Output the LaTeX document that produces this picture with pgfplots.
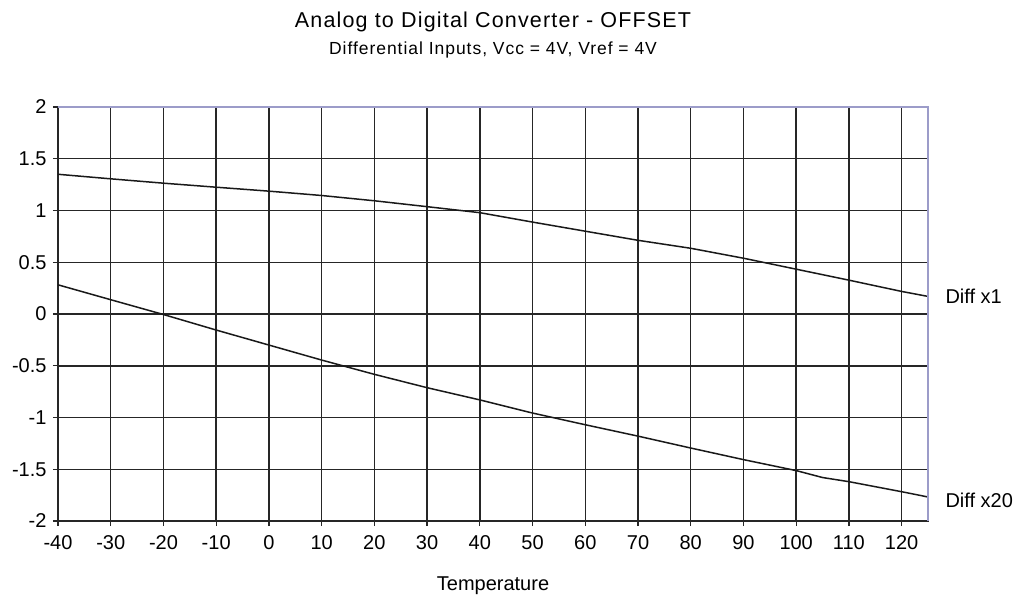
\documentclass[border=0pt]{standalone}
\usepackage{pgfplots}
\pgfplotsset{compat=1.18}
\usepackage{fontspec}
\setmainfont{Liberation Sans}
\newfontfamily\spaced[LetterSpace=5.5]{Liberation Sans}
\begin{document}
\begin{tikzpicture}
\path[use as bounding box] (-58pt,-76pt) rectangle (975pt,521pt);
\begin{axis}[
  scale only axis,
  width=870pt, height=414pt,
  xmin=-40, xmax=125, ymin=-2, ymax=2,
  xtick={-40,-30,...,120},
  ytick={-2,-1.5,...,2},
  yticklabels={-2,-1.5,-1,-0.5,0,0.5,1,1.5,2},
  xtick pos=bottom, ytick pos=left,
  grid=major,
  major grid style={draw=black!85, line width=1.5pt},
  axis line style={draw=black!85, line width=1.5pt},
  tick align=outside,
  major tick length=5pt,
  tick style={draw=black!85, line width=1.3pt},
  ticklabel style={font=\fontsize{20}{24}\selectfont},
  /pgf/number format/assume math mode=true,
  xticklabel style={yshift=-6pt},
  yticklabel style={xshift=-3pt},
  xlabel={Temperature},
  xlabel style={font=\fontsize{20}{24}\selectfont, yshift=-20pt},
  clip=false,
]
\addplot[black!90, line width=1.5pt] coordinates {
(-40,1.35) (-30,1.306) (-20,1.264) (-10,1.225) (0,1.187) (10,1.145) (20,1.094)
(30,1.037) (40,0.979) (50,0.888) (60,0.80) (70,0.712) (80,0.635) (90,0.539)
(100,0.433) (110,0.327) (120,0.218) (125,0.17)};
\addplot[black!90, line width=1.5pt] coordinates {
(-40,0.282) (-30,0.138) (-20,-0.005) (-10,-0.155) (0,-0.30) (10,-0.445) (20,-0.583)
(30,-0.712) (40,-0.83) (50,-0.957) (60,-1.07) (70,-1.18) (80,-1.295) (90,-1.407)
(100,-1.513) (105,-1.58) (110,-1.62) (120,-1.717) (125,-1.768)};
\draw[draw=gray!70!blue!60, line width=1.3pt] (rel axis cs:0,1) -- (rel axis cs:1,1) -- (rel axis cs:1,0);
\node[anchor=west, font=\fontsize{20}{24}\selectfont] at (axis cs:125,0.17) [xshift=14pt] {Diff x1};
\node[anchor=west, font=\fontsize{20}{24}\selectfont] at (axis cs:125,-1.8) [xshift=14pt] {Diff x20};
\node[anchor=base, font=\spaced\fontsize{21.5}{26}\selectfont] at (rel axis cs:0.5,1) [yshift=79pt] {Analog to Digital Converter - OFFSET};
\node[anchor=base, font=\spaced\fontsize{17.5}{21}\selectfont] at (rel axis cs:0.5,1) [yshift=52pt] {Differential Inputs, Vcc = 4V, Vref = 4V};
\end{axis}
\end{tikzpicture}
\end{document}
